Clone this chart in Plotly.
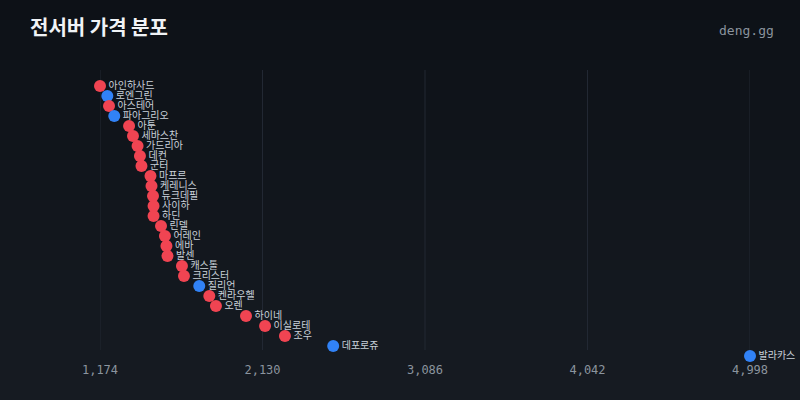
import plotly.graph_objects as go

servers = ["아인하사드", "로엔그린", "아스테어", "파아그리오", "아툰", "세바스찬", "가드리아",
           "데컨", "군터", "마프르", "케레니스", "듀크데필", "사이하", "하딘", "린델", "어레인",
           "에바", "발센", "캐스톨", "크리스터", "질리언", "켄라우헬", "오렌", "하이네",
           "이실로테", "조우", "데포로쥬", "발라카스"]
prices = [1174, 1217, 1227, 1258, 1345, 1368, 1395, 1409, 1418, 1471, 1477, 1486, 1489, 1489,
          1533, 1556, 1565, 1571, 1656, 1668, 1758, 1817, 1856, 2033, 2145, 2262, 2546, 4998]
groups = ["r", "b", "r", "b", "r", "r", "r", "r", "r", "r", "r", "r", "r", "r", "r", "r",
          "r", "r", "r", "r", "b", "r", "r", "r", "r", "r", "b", "b"]
tick_vals = [1174, 2130, 3086, 4042, 4998]
tick_text = ["1,174", "2,130", "3,086", "4,042", "4,998"]

color_map = {"r": "#f04452", "b": "#3182f6"}
colors = [color_map[g] for g in groups]

fig = go.Figure()
fig.add_trace(go.Scatter(
    x=prices, y=servers, mode="markers+text",
    text=servers, textposition="middle right",
    textfont=dict(family="Noto Sans CJK KR", size=10, color="#c9d1d9"),
    marker=dict(size=12, color=colors, line=dict(width=0)),
    cliponaxis=False, hoverinfo="skip", showlegend=False,
))

# plot area: top 71px, bottom 361px (29 rows of 10px)
PT = 71.0
PB = 361.0
PH = PB - PT
shapes = []
# subtle vertical gradient background
n = 40
top = (13, 17, 23)
bot = (22, 27, 34)
for i in range(n):
    t = i / (n - 1)
    c = tuple(round(top[k] + (bot[k] - top[k]) * t) for k in range(3))
    y_top_px = 400 * i / n
    y_bot_px = 400 * (i + 1) / n
    shapes.append(dict(type="rect", xref="paper", yref="paper", layer="below",
                       x0=-0.2, x1=1.2,
                       y0=(PB - y_bot_px) / PH, y1=(PB - y_top_px) / PH,
                       fillcolor="rgb(%d,%d,%d)" % c, line=dict(width=0)))
# vertical grid lines from 70px to 350px
for tv in tick_vals:
    shapes.append(dict(type="line", xref="x", yref="paper", layer="below",
                       x0=tv, x1=tv, y0=(PB - 350) / PH, y1=(PB - 70) / PH,
                       line=dict(color="#222833", width=1)))

fig.update_layout(
    width=800, height=400,
    margin=dict(l=100, r=50, t=71, b=39),
    paper_bgcolor="#0d1117", plot_bgcolor="rgba(0,0,0,0)",
    shapes=shapes,
    title=dict(text="<b>전서버 가격 분포</b>", x=30 / 800, xanchor="left",
               y=1 - 28 / 400, yanchor="middle", yref="container",
               font=dict(family="Noto Sans CJK KR", size=20, color="#f0f3f6")),
    xaxis=dict(range=[1174, 4998], tickvals=tick_vals, ticktext=tick_text,
               showgrid=False, zeroline=False, showline=False,
               ticks="", ticklen=0,
               tickfont=dict(family="DejaVu Sans Mono", size=12, color="#8b949e")),
    yaxis=dict(type="category", categoryorder="array", categoryarray=servers,
               range=[27.5, -1.5], showgrid=False, showticklabels=False,
               zeroline=False, showline=False),
    annotations=[dict(text="deng.gg", xref="paper", yref="paper",
                      x=(776 - 100) / 650, y=(PB - 30) / PH, xanchor="right", yanchor="middle",
                      showarrow=False,
                      font=dict(family="DejaVu Sans Mono", size=13, color="#8b949e"))],
)

fig.write_html("out.html")
